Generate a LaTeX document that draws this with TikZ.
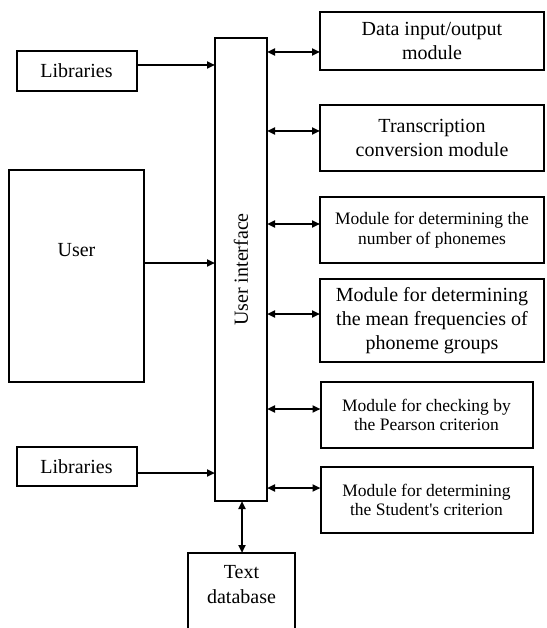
\documentclass[tikz,border=0pt]{standalone}
\usepackage{fontspec}
\setmainfont{Liberation Serif}
\usetikzlibrary{arrows.meta}
\tikzset{
  box/.style={draw, line width=2pt, inner sep=0pt, outer sep=0pt, align=center, fill=white},
  big/.style={font=\fontsize{20}{24}\selectfont},
  small/.style={font=\fontsize{17.5}{19.5}\selectfont},
  conn/.style={line width=2pt, {Triangle[length=8pt,width=7pt]}-{Triangle[length=8pt,width=7pt]}},
  oneway/.style={line width=2pt, -{Triangle[length=8pt,width=7pt]}}
}
\begin{document}
\begin{tikzpicture}[x=1pt,y=-1pt]
\useasboundingbox (0,0) rectangle (546,628);
% central user interface
\node[box, minimum width=52pt, minimum height=463pt] (ui) at (241,269.5) {};
\node[big, rotate=90] (uitext) at (ui.center) {User interface};
% left side
\node[box, big, minimum width=120pt, minimum height=40pt] (lib1) at (76.5,71) {Libraries};
\node[box, minimum width=135pt, minimum height=212pt] (user) at (76.5,276) {};
\node[big] (usertext) at (76.5,250) {User};
\node[box, big, minimum width=120pt, minimum height=39pt] (lib2) at (76.5,466.5) {Libraries};
% right side modules
\node[box, big, minimum width=224pt, minimum height=58pt] (dio) at (432,41) {Data input/output\\module};
\node[box, big, minimum width=224pt, minimum height=66pt] (trans) at (432,138) {Transcription\\conversion module};
\node[box, small, minimum width=224pt, minimum height=66pt] (num) at (432,230) {Module for determining the\\number of phonemes};
\node[box, big, minimum width=224pt, minimum height=83pt] (mean) at (432,320.5) {Module for determining\\the mean frequencies of\\phoneme groups};
\node[box, small, minimum width=212pt, minimum height=66pt] (pear) at (426.5,415) {Module for checking by\\the Pearson criterion};
\node[box, small, minimum width=212pt, minimum height=66pt] (stud) at (426.5,500) {Module for determining\\the Student\textquotesingle s criterion};
% text database (open at the bottom)
\node[font=\fontsize{20}{25}\selectfont, align=center, anchor=north, minimum width=107pt, inner sep=0pt, text depth=0pt] (tdb) at (241.5,565) {Text\\database};
\coordinate (tdbtl) at (188,553);
\coordinate (tdbtr) at (295,553);
\coordinate (tdbtop) at (242,553);
\draw[line width=2pt] (188,632) -- (tdbtl) -- (tdbtr) -- (295,632);
% connectors
\draw[oneway] (lib1.east |- 0,65) -- (ui.west |- 0,65);
\draw[oneway] (user.east |- 0,263) -- (ui.west |- 0,263);
\draw[oneway] (lib2.east |- 0,473) -- (ui.west |- 0,473);
\draw[conn] (ui.east |- 0,52) -- (dio.west |- 0,52);
\draw[conn] (ui.east |- 0,131) -- (trans.west |- 0,131);
\draw[conn] (ui.east |- 0,224) -- (num.west |- 0,224);
\draw[conn] (ui.east |- 0,314) -- (mean.west |- 0,314);
\draw[conn] (ui.east |- 0,409) -- (pear.west |- 0,409);
\draw[conn] (ui.east |- 0,488) -- (stud.west |- 0,488);
\draw[conn] (ui.south -| tdbtop) -- (tdbtop);
\end{tikzpicture}
\end{document}
